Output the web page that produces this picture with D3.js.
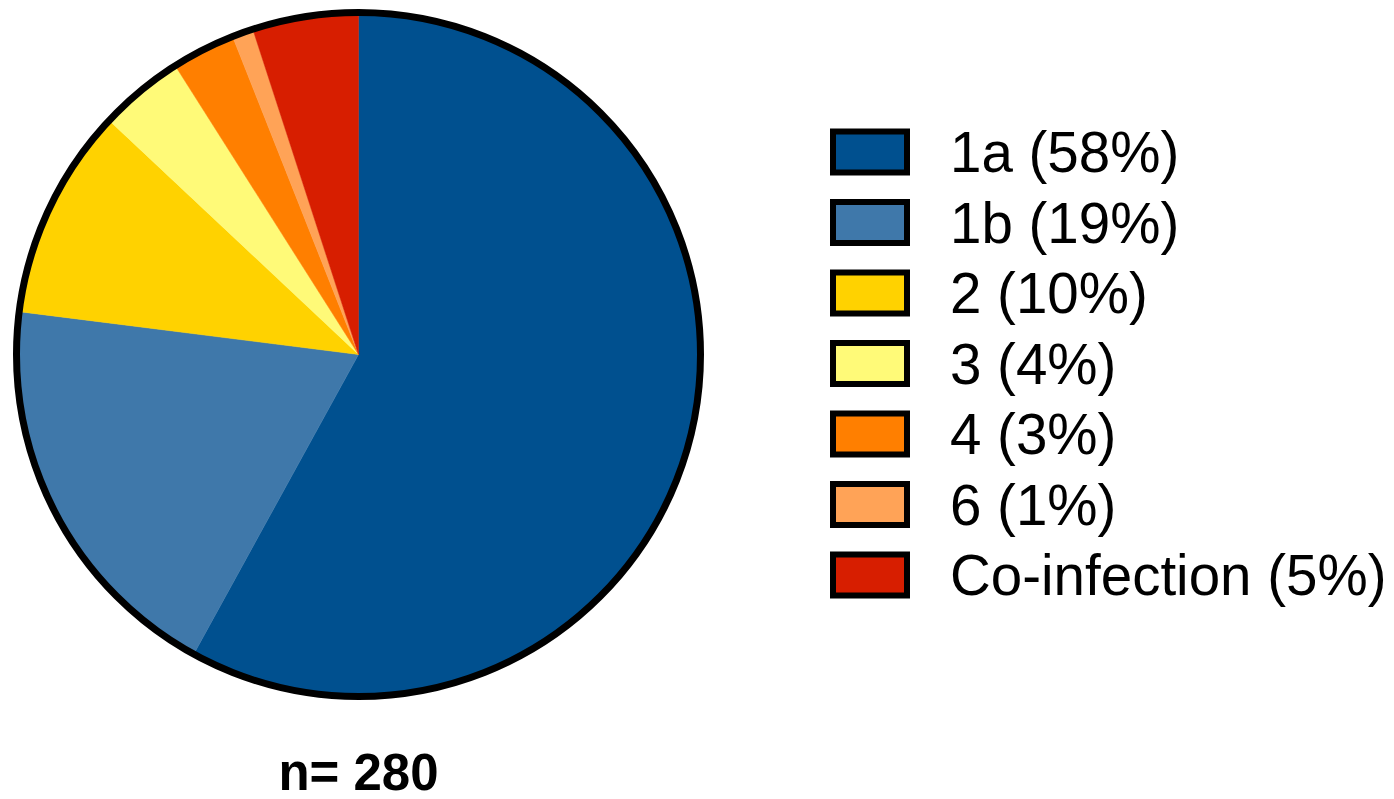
<!DOCTYPE html>
<html>
<head>
<meta charset="utf-8">
<script src="https://cdn.jsdelivr.net/npm/d3@7"></script>
<style>
  html, body { margin: 0; padding: 0; background: #fff; }
  svg { display: block; font-family: "Liberation Sans", Arial, sans-serif; }
</style>
</head>
<body>
<svg id="chart" width="1394" height="799"></svg>
<script>
// Genotype distribution (percent of samples)
const genotypes = ["1a", "1b", "2", "3", "4", "6", "Co-infection"];
const percents  = [58, 19, 10, 4, 3, 1, 5];
const colors    = ["#00508f", "#3f78aa", "#ffd200", "#fffa78", "#ff7f00", "#ffa357", "#d71e00"];
const sampleSize = 280;

const svg = d3.select("#chart");
const cx = 358.5, cy = 354.5, radius = 342;

const data = genotypes.map((g, i) => ({ name: g, value: percents[i], color: colors[i] }));

const pie = d3.pie().value(d => d.value).sort(null);
const arc = d3.arc().innerRadius(0).outerRadius(radius);

const g = svg.append("g").attr("transform", `translate(${cx},${cy})`);
g.selectAll("path.slice")
  .data(pie(data))
  .join("path")
  .attr("class", "slice")
  .attr("d", arc)
  .attr("fill", d => d.data.color)
  .attr("stroke", d => d.data.color)
  .attr("stroke-width", 0.5);

// outer outline
g.append("circle")
  .attr("r", radius)
  .attr("fill", "none")
  .attr("stroke", "#000")
  .attr("stroke-width", 7);

// sample size label
svg.append("text")
  .attr("x", cx)
  .attr("y", 790)
  .attr("text-anchor", "middle")
  .attr("font-weight", "bold")
  .attr("font-size", 51)
  .attr("fill", "#000")
  .text(`n= ${sampleSize}`);

// legend
const legendY = d3.scalePoint().domain(genotypes).range([152, 575]);
const legend = svg.append("g");
const rows = legend.selectAll("g.row").data(data).join("g")
  .attr("class", "row")
  .attr("transform", d => `translate(0,${legendY(d.name)})`);

rows.append("rect")
  .attr("x", 833)
  .attr("y", -20.5)
  .attr("width", 74)
  .attr("height", 41)
  .attr("fill", d => d.color)
  .attr("stroke", "#000")
  .attr("stroke-width", 6);

rows.append("text")
  .attr("x", 950)
  .attr("y", 20)
  .attr("font-size", 56.5)
  .attr("fill", "#000")
  .text(d => `${d.name} (${d.value}%)`);
</script>
</body>
</html>
